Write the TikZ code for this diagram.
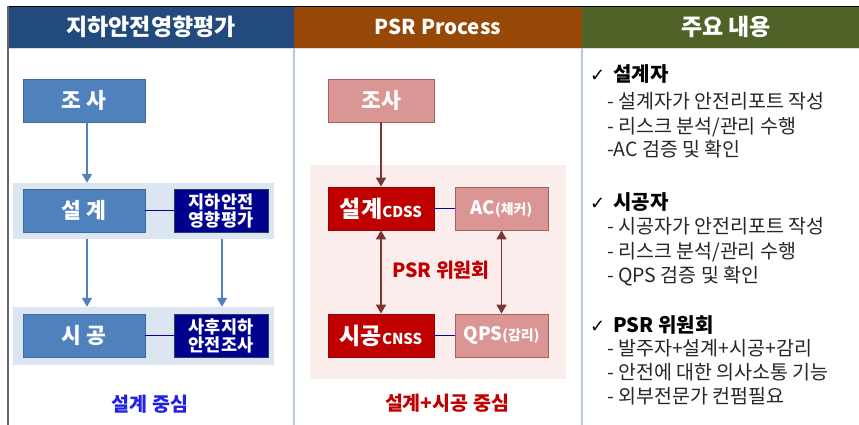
\documentclass[tikz,border=0pt]{standalone}
\usepackage{fontspec}
\setmainfont{Noto Sans CJK KR}
\newfontfamily\symfont{DejaVu Sans}
\usetikzlibrary{arrows.meta,calc}
\definecolor{hdrA}{HTML}{234A7C}
\definecolor{hdrB}{HTML}{974806}
\definecolor{hdrC}{HTML}{4F6228}
\definecolor{bluebox}{HTML}{4F81BD}
\definecolor{blueedge}{HTML}{3F6A9E}
\definecolor{navy}{HTML}{00008F}
\definecolor{bandblue}{HTML}{DCE6F2}
\definecolor{pinkbox}{HTML}{DA9694}
\definecolor{pinkedge}{HTML}{A8605E}
\definecolor{redbox}{HTML}{C00000}
\definecolor{bandpink}{HTML}{FBEDEC}
\definecolor{brownarr}{HTML}{7A3535}
\definecolor{divider}{HTML}{B8C8DE}
\definecolor{txtblue}{HTML}{2222E6}
\definecolor{txtred}{HTML}{C00000}
\tikzset{
  hdr/.style={minimum height=41pt, inner sep=0pt, text=white, font=\fontsize{23}{25}\selectfont\bfseries},
  bbox/.style={fill=bluebox, draw=blueedge, line width=0.8pt, minimum width=122pt, minimum height=43pt, inner sep=0pt, text=white, font=\fontsize{21.5}{23}\selectfont\bfseries},
  nbox/.style={fill=navy, draw=blueedge!60!black, line width=0.8pt, minimum width=94pt, minimum height=43pt, inner sep=0pt, text=white, align=center, font=\fontsize{17.5}{20}\selectfont\bfseries},
  band/.style={inner sep=0pt},
  pbox/.style={fill=pinkbox, draw=pinkedge, line width=0.8pt, minimum height=43pt, inner sep=0pt, text=white, font=\fontsize{21.5}{23}\selectfont\bfseries},
  rbox/.style={fill=redbox, draw=redbox!80!black, line width=0.8pt, minimum width=106pt, minimum height=43pt, inner sep=0pt, text=white, font=\fontsize{23}{25}\selectfont\bfseries},
  barrow/.style={draw=bluebox, line width=1.6pt, -{Triangle[width=10pt,length=9pt]}},
  rarrow/.style={draw=brownarr, line width=1.6pt, -{Triangle[width=10pt,length=9pt]}},
  darrow/.style={draw=brownarr, line width=1.6pt, {Triangle[width=10pt,length=9pt]}-{Triangle[width=10pt,length=9pt]}},
  link/.style={line width=1.4pt},
  head/.style={anchor=base west, inner sep=0pt, font=\fontsize{20}{22}\selectfont\bfseries, text=black},
  item/.style={anchor=base west, inner sep=0pt, font=\fontsize{19.5}{22}\selectfont, text=black!85},
  foot/.style={inner sep=0pt, font=\fontsize{19.5}{21}\selectfont\bfseries},
  chk/.style={}
}
\newcommand{\chkmark}{{\symfont\fontsize{18}{20}\selectfont ✓}\hspace{8pt}}
\begin{document}
\begin{tikzpicture}[x=1pt,y=-1pt]
\useasboundingbox (0,0) rectangle (859,425);
\fill[white] (0,0) rectangle (859,425);
% headers
\fill[hdrA] (8,7) rectangle (294,48);
\fill[hdrB] (294,7) rectangle (582,48);
\fill[hdrC] (582,7) rectangle (859,48);
\draw[black, line width=1.2pt] (8,6.5) -- (859,6.5);
\draw[white!70!gray, line width=0.8pt] (8,48) -- (859,48);
\node[hdr] (h1) at (151,27) {지하안전영향평가};
\node[hdr, font=\fontsize{20.5}{22}\selectfont\bfseries] (h2) at (438,27) {PSR Process};
\node[hdr] (h3) at (726,27) {주요 내용};
% frame lines
\draw[gray!80!black, line width=1.6pt] (8,6) -- (8,425);
\draw[divider, line width=1.5pt] (294,48) -- (294,425);
\draw[divider, line width=1.5pt] (582,48) -- (582,425);
% left column
\node[band, fill=bandblue, minimum width=261pt, minimum height=56pt] (band1) at (143.5,211) {};
\node[band, fill=bandblue, minimum width=261pt, minimum height=58pt] (band2) at (143.5,336) {};
\node[bbox] (ljosa) at (84,100.5) {조 사};
\node[bbox] (lsul) at (84,210.5) {설 계};
\node[nbox] (lji) at (221,210.5) {지하안전\\[-2pt]영향평가};
\node[bbox] (lsi) at (84,335.5) {시 공};
\node[nbox] (lsa) at (221,335.5) {사후지하\\[-2pt]안전조사};
\draw[link, draw=navy!80!blue] (lsul) -- (lji);
\draw[link, draw=navy!80!blue] (lsi) -- (lsa);
\coordinate (la1) at (87,122);
\coordinate (la2) at (87,239);
\coordinate (la3) at (222,239);
\draw[barrow] (la1) -- (la1 |- band1.north);
\draw[barrow] (la2) -- (la2 |- band2.north);
\draw[barrow] (la3) -- (la3 |- band2.north);
\node[foot, text=txtblue] (lfoot) at (150,404) {설계 중심};
% middle column
\node[band, fill=bandpink, minimum width=256pt, minimum height=214pt] (band3) at (438,272) {};
\node[pbox, minimum width=106pt] (mjosa) at (381,100.5) {조사};
\node[rbox] (msul) at (381,208.5) {설계{\fontsize{15}{17}\selectfont CDSS}};
\node[pbox, minimum width=93pt] (mac) at (501.5,208.5) {\fontsize{18.5}{20}\selectfont AC{\fontsize{14}{15}\selectfont(체커)}};
\node[rbox] (msi) at (381,335.5) {시공{\fontsize{15}{17}\selectfont CNSS}};
\node[pbox, minimum width=93pt] (mqps) at (501.5,335.5) {\fontsize{18.5}{20}\selectfont QPS{\fontsize{14}{15}\selectfont(감리)}};
\draw[link, draw=blue!75!black, line width=1.2pt] (msul) -- (mac);
\draw[link, draw=blue!75!black, line width=1.2pt] (msi) -- (mqps);
\draw[rarrow] (mjosa) -- (msul);
\draw[darrow] (msul) -- (msi);
\draw[darrow] (mac) -- (mqps);
\node[foot, text=txtred] (psr) at (441,270) {PSR 위원회};
\node[foot, text=txtred] (mfoot) at (447,403) {설계+시공 중심};
% right column
\node[head] (c1) at (590,82) {\chkmark 설계자};
\node[item] (c1a) at (607,109) {- 설계자가 안전리포트 작성};
\node[item] (c1b) at (607,133) {- 리스크 분석/관리 수행};
\node[item] (c1c) at (607,157) {-AC 검증 및 확인};
\node[head] (c2) at (590,209) {\chkmark 시공자};
\node[item] (c2a) at (607,233) {- 시공자가 안전리포트 작성};
\node[item] (c2b) at (607,258) {- 리스크 분석/관리 수행};
\node[item] (c2c) at (607,282) {- QPS 검증 및 확인};
\node[head] (c3) at (590,332) {\chkmark PSR 위원회};
\node[item] (c3a) at (607,355) {- 발주자+설계+시공+감리};
\node[item] (c3b) at (607,379) {- 안전에 대한 의사소통 기능};
\node[item] (c3c) at (607,403) {- 외부전문가 컨펌필요};
\end{tikzpicture}
\end{document}
